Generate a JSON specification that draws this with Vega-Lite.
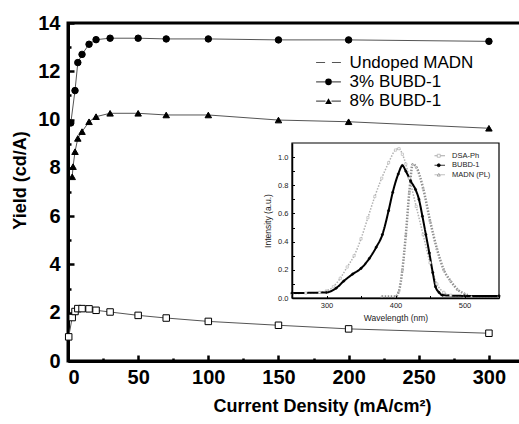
{
  "$schema": "https://vega.github.io/schema/vega-lite/v6.json",
  "width": 456,
  "height": 338,
  "autosize": "none",
  "padding": {"left": 68, "top": 23, "right": 0, "bottom": 63},
  "background": "white",
  "config": {
    "font": "Liberation Sans",
    "view": {"stroke": "black", "strokeWidth": 3}
  },
  "resolve": {
    "scale": {"x": "independent", "y": "independent", "shape": "independent", "fill": "independent", "color": "independent", "stroke": "independent"},
    "axis": {"x": "independent", "y": "independent"},
    "legend": {"shape": "independent", "fill": "independent", "color": "independent", "stroke": "independent"}
  },
  "layer": [
    {
      "data": {
        "values": [
          {"series": "Undoped MADN", "j": 0.5, "yield": 1.0},
          {"series": "Undoped MADN", "j": 3, "yield": 1.8},
          {"series": "Undoped MADN", "j": 5, "yield": 2.05},
          {"series": "Undoped MADN", "j": 7, "yield": 2.17},
          {"series": "Undoped MADN", "j": 10, "yield": 2.17},
          {"series": "Undoped MADN", "j": 15, "yield": 2.16},
          {"series": "Undoped MADN", "j": 20, "yield": 2.1},
          {"series": "Undoped MADN", "j": 30, "yield": 2.03},
          {"series": "Undoped MADN", "j": 50, "yield": 1.89},
          {"series": "Undoped MADN", "j": 70, "yield": 1.78},
          {"series": "Undoped MADN", "j": 100, "yield": 1.64},
          {"series": "Undoped MADN", "j": 150, "yield": 1.48},
          {"series": "Undoped MADN", "j": 200, "yield": 1.33},
          {"series": "Undoped MADN", "j": 300, "yield": 1.15},
          {"series": "3% BUBD-1", "j": 2, "yield": 9.86},
          {"series": "3% BUBD-1", "j": 5, "yield": 11.2},
          {"series": "3% BUBD-1", "j": 7, "yield": 12.36},
          {"series": "3% BUBD-1", "j": 10, "yield": 12.7},
          {"series": "3% BUBD-1", "j": 15, "yield": 13.12},
          {"series": "3% BUBD-1", "j": 20, "yield": 13.31},
          {"series": "3% BUBD-1", "j": 30, "yield": 13.37},
          {"series": "3% BUBD-1", "j": 50, "yield": 13.37},
          {"series": "3% BUBD-1", "j": 70, "yield": 13.34},
          {"series": "3% BUBD-1", "j": 100, "yield": 13.34},
          {"series": "3% BUBD-1", "j": 150, "yield": 13.3},
          {"series": "3% BUBD-1", "j": 200, "yield": 13.3},
          {"series": "3% BUBD-1", "j": 300, "yield": 13.24},
          {"series": "8% BUBD-1", "j": 3, "yield": 7.63},
          {"series": "8% BUBD-1", "j": 3.6, "yield": 8.05},
          {"series": "8% BUBD-1", "j": 5, "yield": 8.67},
          {"series": "8% BUBD-1", "j": 7, "yield": 9.22},
          {"series": "8% BUBD-1", "j": 10, "yield": 9.5},
          {"series": "8% BUBD-1", "j": 15, "yield": 9.91},
          {"series": "8% BUBD-1", "j": 20, "yield": 10.12},
          {"series": "8% BUBD-1", "j": 30, "yield": 10.26},
          {"series": "8% BUBD-1", "j": 50, "yield": 10.26},
          {"series": "8% BUBD-1", "j": 70, "yield": 10.19},
          {"series": "8% BUBD-1", "j": 100, "yield": 10.19},
          {"series": "8% BUBD-1", "j": 150, "yield": 9.98},
          {"series": "8% BUBD-1", "j": 200, "yield": 9.91},
          {"series": "8% BUBD-1", "j": 300, "yield": 9.64}
        ]
      },
      "resolve": {"axis": {"x": "independent", "y": "independent"}},
      "layer": [
        {
          "mark": {"type": "line", "strokeWidth": 1},
          "encoding": {
            "x": {
              "field": "j", "type": "quantitative",
              "scale": {"domain": [0, 325], "nice": false, "zero": false},
              "axis": {
                "orient": "bottom",
                "values": [0, 50, 100, 150, 200, 250, 300],
                "title": "Current Density (mA/cm²)",
                "ticks": false,
                "grid": true, "gridColor": "black", "gridWidth": 2.5, "gridOpacity": 1, "gridCap": "butt", "gridDash": [0, 332, 6, 2000],
                "domainColor": "black", "domainWidth": 3,
                "labelFont": "Liberation Sans", "labelFontSize": 20, "labelFontWeight": "bold", "labelColor": "black",
                "labelPadding": 6,
                "titleFont": "Liberation Sans", "titleFontSize": 18, "titleFontWeight": "bold", "titleColor": "black",
                "titlePadding": 10, "titleX": 254
              }
            },
            "y": {
              "field": "yield", "type": "quantitative",
              "scale": {"domain": [0, 14], "nice": false, "zero": false},
              "axis": {
                "orient": "left",
                "values": [0, 2, 4, 6, 8, 10, 12, 14],
                "title": "Yield (cd/A)",
                "ticks": false,
                "grid": true, "gridColor": "black", "gridWidth": 2.5, "gridOpacity": 1, "gridCap": "butt", "gridDash": [6, 2000],
                "domainColor": "black", "domainWidth": 3,
                "labelFont": "Liberation Sans", "labelFontSize": 20, "labelFontWeight": "bold", "labelColor": "black",
                "labelPadding": 8,
                "titleFont": "Liberation Sans", "titleFontSize": 18, "titleFontWeight": "bold", "titleColor": "black",
                "titlePadding": 8, "titleY": 157
              }
            },
            "color": {
              "field": "series", "type": "nominal",
              "scale": {"domain": ["8% BUBD-1", "3% BUBD-1", "Undoped MADN"], "range": ["#555555", "#555555", "#555555"]},
              "legend": {
                "title": null, "orient": "none", "legendX": 252, "legendY": 31, "zindex": 1,
                "labelFont": "Liberation Sans", "labelFontSize": 17, "labelOpacity": 0,
                "labelOffset": 12.6, "rowPadding": 1.3, "symbolSize": 45, "padding": 0,
                "symbolType": "M-3.7,0H-0.9M0.9,0H3.7",
                "symbolStrokeColor": "black", "symbolStrokeWidth": 1.2
              }
            }
          }
        },
        {
          "mark": {"type": "point", "filled": true, "stroke": "black", "strokeWidth": 1, "opacity": 1},
          "encoding": {
            "x": {
              "field": "j", "type": "quantitative",
              "scale": {"domain": [0, 325], "nice": false, "zero": false},
              "axis": {
                "orient": "top",
                "values": [25, 75, 125, 175, 225, 275],
                "title": null, "labels": false, "domain": false, "ticks": false,
                "grid": true, "gridColor": "black", "gridWidth": 2.5, "gridOpacity": 1, "gridCap": "butt", "gridDash": [3, 2000]
              }
            },
            "y": {
              "field": "yield", "type": "quantitative",
              "scale": {"domain": [0, 14], "nice": false, "zero": false},
              "axis": {
                "orient": "right",
                "values": [1, 3, 5, 7, 9, 11, 13],
                "title": null, "labels": false, "domain": false, "ticks": false,
                "grid": true, "gridColor": "black", "gridWidth": 2.5, "gridOpacity": 1, "gridCap": "butt", "gridDash": [0, 453, 3, 2000]
              }
            },
            "shape": {
              "field": "series", "type": "nominal",
              "scale": {"domain": ["Undoped MADN", "3% BUBD-1", "8% BUBD-1"], "range": ["square", "circle", "triangle-up"]},
              "legend": {
                "title": null, "orient": "none", "legendX": 252, "legendY": 31, "zindex": 2,
                "labelFont": "Liberation Sans", "labelFontSize": 17, "labelColor": "black",
                "labelOffset": 12.6, "rowPadding": 1.3, "symbolSize": 45, "padding": 0,
                "symbolStrokeColor": "black", "symbolStrokeWidth": 1.2,
                "encode": {
                  "symbols": {
                    "update": {
                      "fill": {"signal": "datum.value == 'Undoped MADN' ? 'white' : 'black'"},
                      "fillOpacity": {"value": 1},
                      "stroke": {"value": "black"},
                      "strokeOpacity": {"value": 1},
                      "strokeWidth": {"value": 1.2},
                      "opacity": {"value": 1}
                    }
                  }
                }
              }
            },
            "fill": {"field": "series", "type": "nominal", "scale": {"domain": ["Undoped MADN", "3% BUBD-1", "8% BUBD-1"], "range": ["white", "black", "black"]}, "legend": null},
            "size": {"value": 42}
          }
        }
      ]
    },
    {
      "resolve": {"axis": {"x": "independent", "y": "independent"}},
      "layer": [
        {
          "data": {"values": [{"x0": 250, "x1": 550, "y0": 0, "y1": 1.1}]},
          "mark": {"type": "rect", "fill": "white", "stroke": "black", "strokeWidth": 1.2},
          "encoding": {
            "x": {
              "field": "x0", "type": "quantitative",
              "scale": {"domain": [250, 550], "range": [224, 431], "nice": false, "zero": false},
              "axis": {
                "orient": "bottom", "offset": -63, "zindex": 2,
                "values": [300, 400, 500],
                "title": "Wavelength (nm)", "ticks": false, "grid": false,
                "domainColor": "black", "domainWidth": 1.5,
                "labelFont": "Liberation Sans", "labelFontSize": 7.5, "labelColor": "#222222", "labelPadding": 3,
                "titleFont": "Liberation Sans", "titleFontSize": 8.5, "titleFontWeight": "normal", "titleColor": "#222222", "titlePadding": 5
              }
            },
            "x2": {"field": "x1"},
            "y": {
              "field": "y0", "type": "quantitative",
              "scale": {"domain": [0, 1.1], "range": [275, 120], "nice": false, "zero": false},
              "axis": {
                "orient": "left", "offset": -224, "zindex": 2,
                "values": [0, 0.1, 0.2, 0.3, 0.4, 0.5, 0.6, 0.7, 0.8, 0.9, 1.0],
                "labelExpr": "round(datum.value * 10) % 2 == 0 ? format(datum.value, '.1f') : ''",
                "title": "Intensity (a.u.)", "ticks": false,
                "grid": true, "gridColor": "black", "gridWidth": 1, "gridOpacity": 1, "gridCap": "butt", "gridDash": [2.5, 2000],
                "domainColor": "black", "domainWidth": 1.5,
                "labelFont": "Liberation Sans", "labelFontSize": 7.5, "labelColor": "#222222", "labelPadding": 4,
                "titleFont": "Liberation Sans", "titleFontSize": 8.5, "titleFontWeight": "normal", "titleColor": "#222222", "titlePadding": 5
              }
            },
            "y2": {"field": "y1"}
          }
        },
        {
          "data": {
            "name": "spectra",
            "values": [
              {"s": "DSA-Ph", "w": 250, "v": 0.03}, {"s": "DSA-Ph", "w": 270, "v": 0.035}, {"s": "DSA-Ph", "w": 290, "v": 0.04},
              {"s": "DSA-Ph", "w": 300, "v": 0.05}, {"s": "DSA-Ph", "w": 310, "v": 0.08}, {"s": "DSA-Ph", "w": 320, "v": 0.14},
              {"s": "DSA-Ph", "w": 330, "v": 0.22}, {"s": "DSA-Ph", "w": 340, "v": 0.3}, {"s": "DSA-Ph", "w": 350, "v": 0.42},
              {"s": "DSA-Ph", "w": 360, "v": 0.57}, {"s": "DSA-Ph", "w": 370, "v": 0.72}, {"s": "DSA-Ph", "w": 380, "v": 0.85},
              {"s": "DSA-Ph", "w": 390, "v": 0.96}, {"s": "DSA-Ph", "w": 400, "v": 1.05}, {"s": "DSA-Ph", "w": 405, "v": 1.06},
              {"s": "DSA-Ph", "w": 410, "v": 1.02}, {"s": "DSA-Ph", "w": 415, "v": 0.95}, {"s": "DSA-Ph", "w": 420, "v": 0.85},
              {"s": "DSA-Ph", "w": 430, "v": 0.65}, {"s": "DSA-Ph", "w": 440, "v": 0.45}, {"s": "DSA-Ph", "w": 450, "v": 0.25},
              {"s": "DSA-Ph", "w": 460, "v": 0.1}, {"s": "DSA-Ph", "w": 470, "v": 0.04}, {"s": "DSA-Ph", "w": 480, "v": 0.02},
              {"s": "DSA-Ph", "w": 500, "v": 0.01}, {"s": "DSA-Ph", "w": 550, "v": 0.01},
              {"s": "MADN (PL)", "w": 380, "v": 0.01}, {"s": "MADN (PL)", "w": 400, "v": 0.01}, {"s": "MADN (PL)", "w": 405, "v": 0.05},
              {"s": "MADN (PL)", "w": 410, "v": 0.2}, {"s": "MADN (PL)", "w": 415, "v": 0.45}, {"s": "MADN (PL)", "w": 420, "v": 0.75},
              {"s": "MADN (PL)", "w": 425, "v": 0.95}, {"s": "MADN (PL)", "w": 430, "v": 0.93}, {"s": "MADN (PL)", "w": 440, "v": 0.78},
              {"s": "MADN (PL)", "w": 450, "v": 0.55}, {"s": "MADN (PL)", "w": 460, "v": 0.35}, {"s": "MADN (PL)", "w": 470, "v": 0.2},
              {"s": "MADN (PL)", "w": 480, "v": 0.12}, {"s": "MADN (PL)", "w": 490, "v": 0.06}, {"s": "MADN (PL)", "w": 500, "v": 0.03},
              {"s": "MADN (PL)", "w": 510, "v": 0.01},
              {"s": "BUBD-1", "w": 250, "v": 0.035}, {"s": "BUBD-1", "w": 300, "v": 0.04}, {"s": "BUBD-1", "w": 314, "v": 0.07},
              {"s": "BUBD-1", "w": 325, "v": 0.12}, {"s": "BUBD-1", "w": 338, "v": 0.17}, {"s": "BUBD-1", "w": 350, "v": 0.21},
              {"s": "BUBD-1", "w": 362, "v": 0.28}, {"s": "BUBD-1", "w": 372, "v": 0.36}, {"s": "BUBD-1", "w": 381, "v": 0.45},
              {"s": "BUBD-1", "w": 390, "v": 0.62}, {"s": "BUBD-1", "w": 396, "v": 0.75}, {"s": "BUBD-1", "w": 404, "v": 0.88},
              {"s": "BUBD-1", "w": 410, "v": 0.94}, {"s": "BUBD-1", "w": 415, "v": 0.9}, {"s": "BUBD-1", "w": 422, "v": 0.83},
              {"s": "BUBD-1", "w": 429, "v": 0.77}, {"s": "BUBD-1", "w": 434, "v": 0.7}, {"s": "BUBD-1", "w": 439, "v": 0.58},
              {"s": "BUBD-1", "w": 444, "v": 0.45}, {"s": "BUBD-1", "w": 449, "v": 0.32}, {"s": "BUBD-1", "w": 454, "v": 0.18},
              {"s": "BUBD-1", "w": 458, "v": 0.08}, {"s": "BUBD-1", "w": 463, "v": 0.04}, {"s": "BUBD-1", "w": 468, "v": 0.02},
              {"s": "BUBD-1", "w": 500, "v": 0.015}, {"s": "BUBD-1", "w": 550, "v": 0.015}
            ]
          },
          "mark": {"type": "line", "interpolate": "monotone"},
          "encoding": {
            "x": {
              "field": "w", "type": "quantitative",
              "scale": {"domain": [250, 550], "range": [224, 431], "nice": false, "zero": false},
              "axis": {
                "orient": "top", "zindex": 2,
                "values": [250, 300, 350, 400, 450, 500, 550],
                "title": null, "labels": false, "domain": false, "ticks": false,
                "grid": true, "gridColor": "black", "gridWidth": 1, "gridOpacity": 1, "gridCap": "butt", "gridDash": [2.5, 2000]
              }
            },
            "y": {
              "field": "v", "type": "quantitative",
              "scale": {"domain": [0, 1.1], "range": [275, 120], "nice": false, "zero": false},
              "axis": null
            },
            "color": {
              "field": "s", "type": "nominal",
              "scale": {"domain": ["MADN (PL)", "BUBD-1", "DSA-Ph"], "range": ["#909090", "black", "#b0b0b0"]},
              "legend": {
                "title": null, "orient": "none", "legendX": 368, "legendY": 129, "zindex": 1,
                "labelFont": "Liberation Sans", "labelFontSize": 7.5, "labelOpacity": 0,
                "labelOffset": 9.5, "rowPadding": 0.5, "symbolSize": 9, "padding": 0,
                "symbolType": "M-3.5,0H3.5", "symbolStrokeWidth": 0.8,
                "encode": {"symbols": {"update": {"stroke": {"signal": "datum.value == 'BUBD-1' ? 'black' : 'transparent'"}}}}
              }
            },
            "strokeWidth": {"field": "s", "type": "nominal", "scale": {"domain": ["DSA-Ph", "BUBD-1", "MADN (PL)"], "range": [1.5, 2.5, 1.5]}, "legend": null},
            "strokeDash": {"field": "s", "type": "nominal", "scale": {"domain": ["DSA-Ph", "BUBD-1", "MADN (PL)"], "range": [[1.5, 1.5], [1, 0], [1.5, 1.5]]}, "legend": null}
          }
        },
        {
          "data": {"name": "spectra"},
          "mark": {"type": "point", "filled": true, "strokeWidth": 0.6, "opacity": 1},
          "encoding": {
            "x": {"field": "w", "type": "quantitative", "scale": {"domain": [250, 550], "range": [224, 431], "nice": false, "zero": false}, "axis": null},
            "y": {"field": "v", "type": "quantitative", "scale": {"domain": [0, 1.1], "range": [275, 120], "nice": false, "zero": false}, "axis": null},
            "shape": {
              "field": "s", "type": "nominal",
              "scale": {"domain": ["DSA-Ph", "BUBD-1", "MADN (PL)"], "range": ["square", "circle", "triangle-up"]},
              "legend": {
                "title": null, "orient": "none", "legendX": 367, "legendY": 129, "zindex": 2,
                "labelFont": "Liberation Sans", "labelFontSize": 7.5, "labelColor": "#222222",
                "labelOffset": 9.5, "rowPadding": 0.5, "symbolSize": 9, "padding": 0,
                "symbolStrokeWidth": 0.8,
                "encode": {
                  "symbols": {
                    "update": {
                      "fill": {"signal": "datum.value == 'BUBD-1' ? 'black' : 'white'"},
                      "stroke": {"signal": "datum.value == 'BUBD-1' ? 'black' : datum.value == 'DSA-Ph' ? '#b0b0b0' : '#909090'"},
                      "strokeOpacity": {"value": 1},
                      "strokeWidth": {"value": 0.8},
                      "opacity": {"value": 1}
                    }
                  }
                }
              }
            },
            "fill": {"field": "s", "type": "nominal", "scale": {"domain": ["DSA-Ph", "BUBD-1", "MADN (PL)"], "range": ["white", "black", "white"]}, "legend": null},
            "stroke": {"field": "s", "type": "nominal", "scale": {"domain": ["DSA-Ph", "BUBD-1", "MADN (PL)"], "range": ["#b0b0b0", "black", "#909090"]}, "legend": null},
            "size": {"value": 5}
          }
        }
      ]
    }
  ]
}
